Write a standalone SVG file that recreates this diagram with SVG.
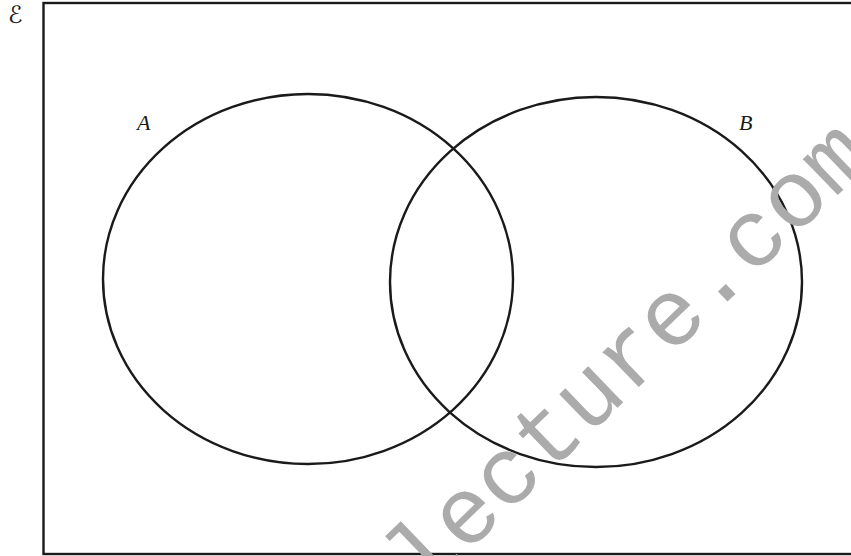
<svg xmlns="http://www.w3.org/2000/svg" width="851" height="556" viewBox="0 0 851 556">
<style>
.set{fill:none;stroke:#1a1a1a;stroke-width:2.4}
.lbl{font-family:"Liberation Serif",serif;font-style:italic;font-size:22px;fill:#1a1a1a}
.wm{font-family:"Liberation Mono",monospace;font-size:95px;fill:#ababab}
</style>
<rect width="851" height="556" fill="#ffffff"/>
<g id="universe">
<rect x="43.5" y="3" width="820" height="551" fill="none" stroke="#1a1a1a" stroke-width="2.4"/>
<text x="8" y="23" font-family="DejaVu Sans, sans-serif" font-size="24" fill="#1a1a1a">ℰ</text>
</g>
<g id="setA">
<ellipse class="set" cx="308" cy="279" rx="205" ry="185"/>
<text class="lbl" x="137" y="130">A</text>
</g>
<g id="setB">
<ellipse class="set" cx="596" cy="282" rx="206" ry="185"/>
<text class="lbl" x="739" y="130">B</text>
</g>
<g id="connectors"></g>
<text class="wm" transform="translate(260,753) rotate(-44)">mathlecture.com</text>
</svg>
